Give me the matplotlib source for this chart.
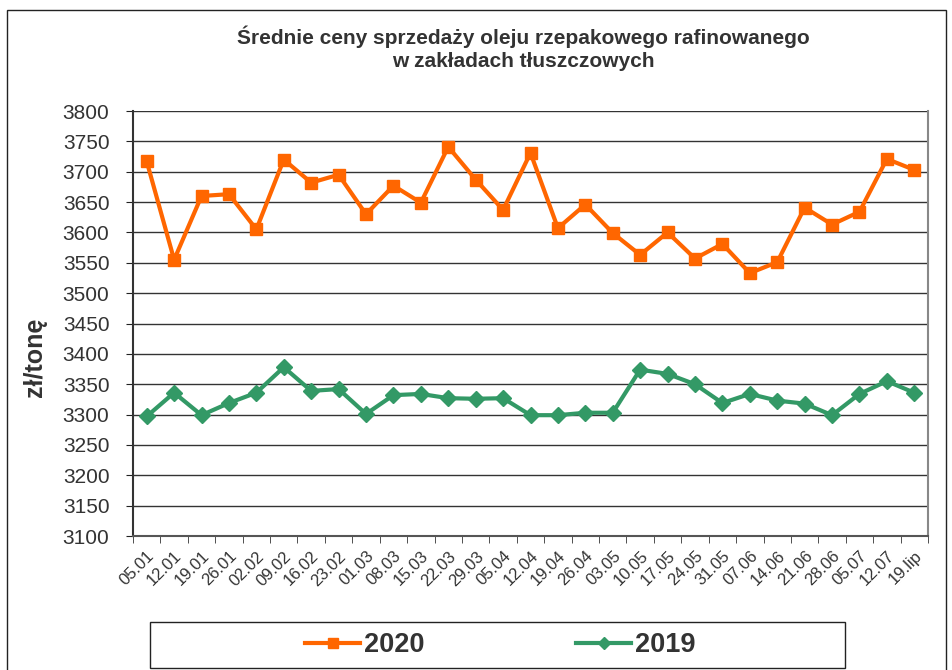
import matplotlib
matplotlib.use('Agg')
import matplotlib.pyplot as plt
from matplotlib.patches import Rectangle

# etykiety tygodni
weeks = ['05.01', '12.01', '19.01', '26.01', '02.02', '09.02', '16.02', '23.02',
         '01.03', '08.03', '15.03', '22.03', '29.03', '05.04', '12.04', '19.04',
         '26.04', '03.05', '10.05', '17.05', '24.05', '31.05', '07.06', '14.06',
         '21.06', '28.06', '05.07', '12.07', '19.lip']

# ceny 2020 (zł/tonę)
prices_2020 = [3717, 3555, 3660, 3663, 3605, 3720, 3682, 3695, 3630, 3677,
               3649, 3741, 3687, 3637, 3731, 3607, 3646, 3599, 3563, 3600,
               3557, 3581, 3533, 3551, 3641, 3613, 3634, 3721, 3703]

# ceny 2019 (zł/tonę)
prices_2019 = [3297, 3336, 3299, 3319, 3336, 3378, 3339, 3342, 3301, 3332,
               3334, 3327, 3326, 3327, 3299, 3299, 3303, 3303, 3374, 3367,
               3350, 3319, 3334, 3323, 3318, 3299, 3334, 3355, 3336]

y_ticks = list(range(3100, 3801, 50))

plt.rcParams['font.family'] = ['Liberation Sans', 'DejaVu Sans']

W, H = 952, 670
fig = plt.figure(figsize=(W / 100, H / 100), dpi=100)
ax = fig.add_axes([133 / W, 1 - 536 / H, (928 - 133) / W, (536 - 111) / H])

x = list(range(len(weeks)))
l1, = ax.plot(x, prices_2020, color='#FF6600', lw=3, marker='s', ms=9,
              label='2020', zorder=3)
l2, = ax.plot(x, prices_2019, color='#339966', lw=3, marker='D', ms=8.5,
              label='2019', zorder=3)

ax.set_xlim(-0.5, len(weeks) - 0.5)
ax.set_ylim(3100, 3800)
ax.set_yticks(y_ticks)
ax.set_yticklabels([str(v) for v in y_ticks], fontsize=15, color='#333333')
ax.set_xticks(x)
ax.set_xticklabels(weeks, rotation=45, ha='right', rotation_mode='anchor',
                   fontsize=12, color='#333333')
ax.set_xticks([i - 0.5 for i in range(len(weeks) + 1)], minor=True)
ax.tick_params(axis='x', which='major', length=0, pad=9)
ax.tick_params(axis='x', which='minor', length=5, direction='out', color='#333333')
ax.tick_params(axis='y', length=5, direction='out', color='#222222', pad=12)

ax.grid(axis='y', color='#333333', lw=1)
ax.set_axisbelow(True)
ax.spines['top'].set_visible(False)
ax.spines['right'].set_color('#888888')
ax.spines['right'].set_linewidth(1.5)
ax.spines['left'].set_color('#333333')
ax.spines['left'].set_linewidth(1.5)
ax.spines['bottom'].set_color('#555555')
ax.spines['bottom'].set_linewidth(1.5)

# opis osi Y
fig.text(35 / W, 1 - 357 / H, 'zł/tonę', rotation=90, ha='center', va='center',
         fontsize=18, fontweight='bold', color='#333333')

fig.text(523 / W, 1 - 48 / H,
         'Średnie ceny sprzedaży oleju rzepakowego rafinowanego\nw zakładach tłuszczowych',
         ha='center', va='center', fontsize=15, fontweight='bold', color='#333333',
         linespacing=1.25)

# obramowanie całego wykresu
fig.patches.append(Rectangle((7 / W, -0.05), (946 - 7) / W, 1.05 - 10 / H,
                             transform=fig.transFigure, fill=False,
                             edgecolor='#222222', lw=1))

# ramka legendy
fig.patches.append(Rectangle((150 / W, 1 - 668 / H), (845 - 150) / W, 46 / H,
                             transform=fig.transFigure, fill=False,
                             edgecolor='#222222', lw=1))

leg = fig.legend(handles=[l1, l2], loc='center',
                 bbox_to_anchor=(500 / W, 1 - 645 / H),
                 ncol=2, frameon=False, markerscale=0.75,
                 prop={'weight': 'bold', 'size': 19.5},
                 handlelength=2.05, columnspacing=5.6, handletextpad=0.12,
                 borderaxespad=0)
for t in leg.get_texts():
    t.set_color('#333333')

fig.savefig('out.png', dpi=100)
